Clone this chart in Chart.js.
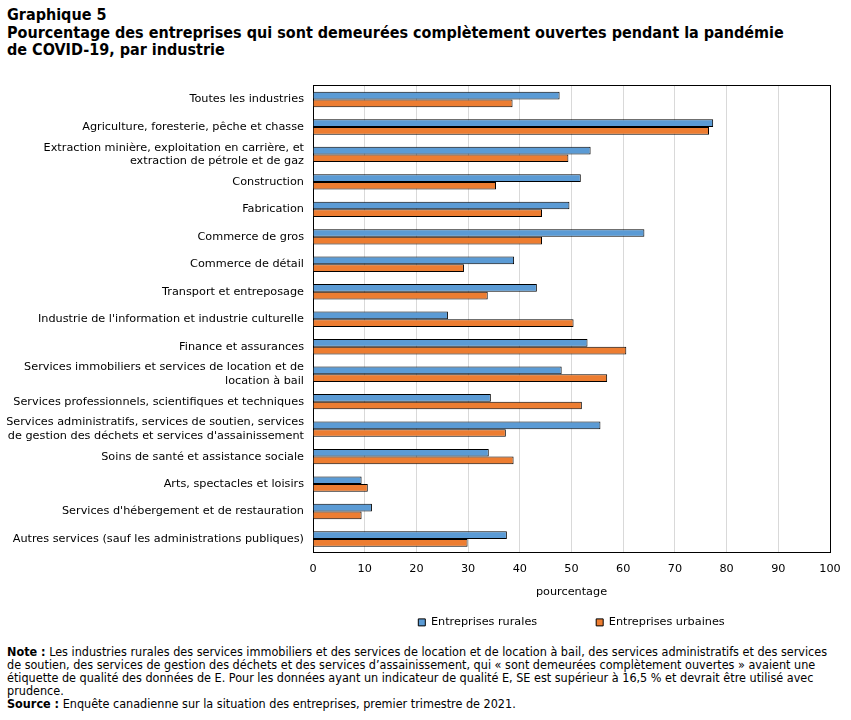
<!DOCTYPE html>
<html><head><meta charset="utf-8">
<script src="https://cdn.jsdelivr.net/npm/chart.js@4/dist/chart.umd.min.js"></script>
<style>
html,body{margin:0;padding:0;background:#fff;width:851px;height:720px;overflow:hidden;}
#title{position:absolute;left:7px;top:6px;font-family:"DejaVu Sans Condensed","DejaVu Sans",sans-serif;font-weight:bold;font-size:16px;line-height:17.5px;color:#000;}
#wrap{position:absolute;left:0;top:70px;width:851px;height:572px;}
#notes{position:absolute;left:7px;top:645px;width:830px;font-family:"DejaVu Sans Condensed","DejaVu Sans",sans-serif;font-size:12.5px;line-height:13px;color:#000;}
</style></head><body>
<div id="title">Graphique 5<br>Pourcentage des entreprises qui sont demeurées complètement ouvertes pendant la pandémie<br>de COVID-19, par industrie</div>
<div id="wrap"><canvas id="c"></canvas></div>
<div id="notes"><b>Note :</b> Les industries rurales des services immobiliers et des services de location et de location à bail, des services administratifs et des services de soutien, des services de gestion des déchets et des services d’assainissement, qui « sont demeurées complètement ouvertes » avaient une étiquette de qualité des données de E. Pour les données ayant un indicateur de qualité E, SE est supérieur à 16,5 % et devrait être utilisé avec prudence.<br><b>Source :</b> Enquête canadienne sur la situation des entreprises, premier trimestre de 2021.</div>
<script>
const categories = [
  "Toutes les industries",
  "Agriculture, foresterie, pêche et chasse",
  ["Extraction minière, exploitation en carrière, et", "extraction de pétrole et de gaz"],
  "Construction",
  "Fabrication",
  "Commerce de gros",
  "Commerce de détail",
  "Transport et entreposage",
  "Industrie de l'information et industrie culturelle",
  "Finance et assurances",
  ["Services immobiliers et services de location et de", "location à bail"],
  "Services professionnels, scientifiques et techniques",
  ["Services administratifs, services de soutien, services", "de gestion des déchets et services d'assainissement"],
  "Soins de santé et assistance sociale",
  "Arts, spectacles et loisirs",
  "Services d'hébergement et de restauration",
  "Autres services (sauf les administrations publiques)"
];
const rurales = [47.7, 77.4, 53.7, 51.8, 49.6, 64.1, 38.9, 43.3, 26.1, 53.1, 48.1, 34.4, 55.6, 34.0, 9.4, 11.4, 37.5];
const urbaines = [38.6, 76.6, 49.4, 35.4, 44.3, 44.3, 29.2, 33.8, 50.4, 60.6, 56.9, 52.0, 37.3, 38.8, 10.6, 9.4, 29.9];
const xTicks = [0,10,20,30,40,50,60,70,80,90,100];
const seriesNames = ["Entreprises rurales", "Entreprises urbaines"];

const FONT = '"DejaVu Sans", Verdana, sans-serif';
const FS = 11.25;
Chart.defaults.font.family = FONT;
Chart.defaults.color = '#000';

new Chart(document.getElementById('c'), {
  type: 'bar',
  data: {
    labels: categories,
    datasets: [
      {label: seriesNames[0], data: rurales, backgroundColor: '#5B9BD5', borderColor: '#000', borderWidth: 1, categoryPercentage: 0.56, barPercentage: 1},
      {label: seriesNames[1], data: urbaines, backgroundColor: '#ED7D31', borderColor: '#000', borderWidth: 1, categoryPercentage: 0.56, barPercentage: 1}
    ]
  },
  options: {
    indexAxis: 'y',
    responsive: true,
    maintainAspectRatio: false,
    animation: false,
    layout: {padding: {left: 0, right: 21, top: 15, bottom: 4}},
    scales: {
      x: {
        min: 0, max: 100,
        afterBuildTicks: s => { s.ticks = xTicks.map(v => ({value: v})); },
        grid: {color: '#d9d9d9', drawTicks: false, lineWidth: 1},
        border: {display: true, color: '#000', width: 1},
        ticks: {font: {size: FS}, padding: 10, maxRotation: 0, autoSkip: false},
        title: {display: true, text: 'pourcentage', font: {size: FS}, padding: {top: 0, bottom: 4}},
        afterFit: s => { s.height = 50; }
      },
      y: {
        grid: {display: false, drawTicks: false},
        border: {display: true, color: '#000', width: 1},
        ticks: {font: {size: FS}, padding: 9, color: '#000', autoSkip: false},
        afterFit: s => { s.width = 313; }
      },
      x2: {position: 'top', min: 0, max: 100, grid: {display: false, drawTicks: false}, ticks: {display: false}, border: {display: true, color: '#000', width: 1}},
      y2: {position: 'right', grid: {display: false, drawTicks: false}, ticks: {display: false}, border: {display: true, color: '#000', width: 1}}
    },
    plugins: {
      legend: {
        position: 'bottom',
        fullSize: false,
        labels: {
          boxWidth: 7, boxHeight: 7, padding: 14, font: {size: FS}, color: '#000',
          generateLabels: chart => {
            const items = Chart.defaults.plugins.legend.labels.generateLabels(chart);
            items.forEach((it, i) => { it.lineWidth = 1; it.strokeStyle = '#000'; if (i === 0) it.text = it.text + '\u2003\u2003\u2003\u2003'; });
            return items;
          }
        }
      },
      tooltip: {enabled: false}
    }
  }
});
</script>
</body></html>
